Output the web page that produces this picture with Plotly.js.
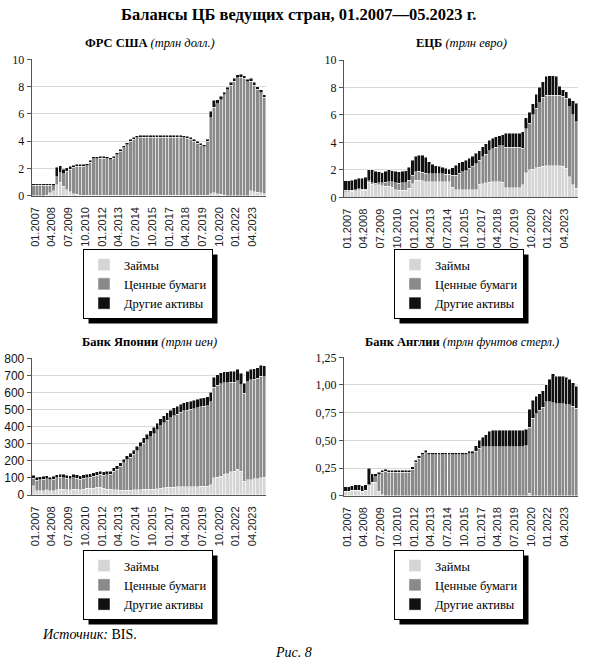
<!DOCTYPE html>
<html><head><meta charset="utf-8">
<script src="https://cdn.plot.ly/plotly-3.0.1.min.js"></script>
<style>html,body{margin:0;padding:0;background:#fff}</style>
</head><body>
<div id="chart" style="width:590px;height:662px"></div>
<script>
// Quarterly categories: 2006Q4 ... 2024Q1 (70 quarters), given by quarter start date
const quarters = [];
for (let y = 2006, m = 10; quarters.length < 70;) {
  quarters.push(y + '-' + String(m).padStart(2, '0') + '-01');
  m += 3; if (m > 12) { m -= 12; y++; }
}
const tickDates = ['2007-01-01','2008-04-01','2009-07-01','2010-10-01','2012-01-01','2013-04-01','2014-07-01','2015-10-01','2017-01-01','2018-04-01','2019-07-01','2020-10-01','2022-01-01','2023-04-01'];
const tickLabels = ['01.2007','04.2008','07.2009','10.2010','01.2012','04.2013','07.2014','10.2015','01.2017','04.2018','07.2019','10.2020','01.2022','04.2023'];
const seriesNames = ['Займы', 'Ценные бумаги', 'Другие активы'];

// ФРС США, трлн долл.
const fedLoans = [0,0,0,0,0.03,0.2,0.35,0.8,1.0,0.7, 0.45,0.3,0.15,0.1,0.05,0.02,0.02,0.02,0.02,0.02, 0.02,0.02,0.02,0.02,0.02,0.02,0.02,0.02,0.02,0.02, 0.02,0.02,0.02,0.02,0.02,0.02,0.02,0.02,0.02,0.02, 0.02,0.02,0.02,0.02,0.02,0.02,0.02,0.02,0.02,0.02, 0.02,0.02,0.02,0.15,0.2,0.15,0.1,0.05,0.01,0.01, 0.01,0.01,0.01,0.01,0.01,0.35,0.3,0.25,0.2,0.15];
const fedSecurities = [0.78,0.78,0.78,0.78,0.75,0.58,0.38,0.6,0.7,0.9, 1.35,1.65,1.95,2.05,2.12,2.13,2.18,2.43,2.68,2.69, 2.73,2.71,2.68,2.63,2.73,2.98,3.23,3.48,3.73,3.98, 4.13,4.23,4.28,4.28,4.28,4.28,4.28,4.28,4.28,4.28, 4.28,4.28,4.28,4.28,4.28,4.23,4.18,4.13,3.98,3.83, 3.68,3.58,3.98,5.55,6.3,6.6,6.95,7.35,7.74,8.09, 8.39,8.64,8.69,8.59,8.34,8.05,7.8,7.55,7.35,7.05];
const fedOther = [0.08,0.08,0.08,0.08,0.08,0.08,0.15,0.7,0.5,0.35, 0.25,0.2,0.15,0.15,0.15,0.15,0.15,0.15,0.15,0.15, 0.15,0.15,0.15,0.15,0.15,0.15,0.15,0.15,0.15,0.15, 0.15,0.15,0.15,0.15,0.15,0.15,0.15,0.15,0.15,0.15, 0.15,0.15,0.15,0.15,0.15,0.15,0.15,0.15,0.15,0.15, 0.15,0.15,0.15,0.5,0.5,0.3,0.25,0.2,0.2,0.2, 0.2,0.2,0.2,0.2,0.2,0.2,0.2,0.2,0.2,0.2];

// ЕЦБ, трлн евро
const ecbLoans = [0.42,0.42,0.45,0.48,0.55,0.5,0.5,1.1,0.95,0.9, 0.9,0.85,0.82,0.82,0.75,0.55,0.5,0.5,0.5,0.65, 1.0,1.25,1.26,1.22,1.15,1.15,1.14,1.14,1.14,1.14, 1.12,1.12,0.75,0.55,0.55,0.55,0.55,0.55,0.55,0.55, 0.95,1.0,1.05,1.1,1.15,1.15,1.15,1.1,0.7,0.7, 0.7,0.7,0.7,0.9,1.8,2.0,2.05,2.15,2.2,2.25, 2.3,2.3,2.3,2.3,2.3,2.25,2.1,1.5,0.9,0.65];
const ecbSecurities = [0.08,0.08,0.08,0.08,0.08,0.09,0.09,0.1,0.12,0.12, 0.15,0.2,0.28,0.3,0.38,0.5,0.52,0.55,0.55,0.6, 0.62,0.62,0.62,0.62,0.6,0.58,0.56,0.56,0.56,0.56, 0.55,0.55,0.85,1.05,1.2,1.3,1.4,1.55,1.7,1.9, 1.75,1.95,2.1,2.3,2.4,2.5,2.6,2.65,2.95,2.95, 2.95,2.95,2.95,2.67,3.2,3.4,3.95,4.35,4.7,5.05, 5.15,5.15,5.15,5.15,5.15,5.1,5.1,5.1,5.1,4.85];
const ecbOther = [0.7,0.7,0.72,0.74,0.77,0.81,0.86,0.8,0.93,0.88, 0.8,0.75,0.8,0.88,0.82,0.85,0.83,0.85,0.9,0.95, 1.08,1.13,1.17,1.21,1.15,0.87,0.7,0.6,0.55,0.5, 0.43,0.38,0.55,0.75,0.75,0.75,0.75,0.75,0.75,0.75, 0.7,0.75,0.75,0.75,0.75,0.75,0.75,0.8,1.0,1.0, 1.0,1.0,1.0,1.21,0.8,0.8,0.8,1.0,1.1,1.1, 1.35,1.4,1.4,1.35,0.65,0.5,0.5,0.6,1.05,1.35];

// Банк Японии, трлн иен
const bojLoans = [55,25,25,25,30,25,25,30,35,35, 30,30,35,35,30,35,40,40,40,45, 45,40,35,35,30,30,28,28,28,28, 30,30,32,35,35,35,35,38,40,42, 45,45,45,48,48,48,48,48,48,48, 50,50,50,60,100,105,110,120,125,135, 140,150,140,80,90,90,95,95,100,105];
const bojSecurities = [42,62,65,67,64,63,68,70,69,67, 67,64,66,64,63,64,62,65,70,70, 75,75,83,85,108,120,141,160,179,193, 207,228,249,269,287,305,323,344,365,381, 392,406,420,426,435,444,449,453,457,462, 465,469,473,485,530,538,542,536,531,525, 520,520,506,515,573,583,583,587,596,586];
const bojOther = [18,18,18,18,18,17,17,18,18,18, 18,18,19,19,19,19,20,20,20,20, 20,20,20,20,20,20,21,22,23,24, 25,27,29,31,33,35,37,38,40,42, 43,44,45,46,47,48,48,49,50,50, 50,51,52,55,60,62,63,64,64,65, 65,65,66,60,62,62,62,63,64,64];

// Банк Англии, трлн фунтов стерл.
const boeLoans = [0.04,0.04,0.05,0.05,0.05,0.04,0.05,0.1,0.12,0.12, 0.04,0.01,0,0,0,0,0,0,0,0, 0,0,0,0,0,0,0,0,0,0, 0,0,0,0,0,0,0,0,0,0, 0,0,0,0,0,0,0,0,0,0, 0,0,0,0,0,0.02,0,0,0,0, 0,0,0,0,0,0,0,0,0,0];
const boeSecurities = [0,0,0,0,0,0,0,0,0,0.05, 0.15,0.2,0.22,0.21,0.21,0.21,0.21,0.21,0.21,0.21, 0.24,0.3,0.34,0.37,0.39,0.37,0.37,0.37,0.37,0.37, 0.37,0.37,0.37,0.37,0.37,0.37,0.37,0.38,0.38,0.4, 0.43,0.44,0.44,0.44,0.44,0.44,0.44,0.44,0.44,0.44, 0.44,0.44,0.44,0.44,0.45,0.6,0.7,0.74,0.77,0.8, 0.85,0.85,0.84,0.83,0.83,0.83,0.82,0.82,0.81,0.79];
const boeOther = [0.04,0.04,0.04,0.05,0.05,0.05,0.05,0.15,0.08,0.03, 0.02,0.02,0.02,0.02,0.02,0.02,0.02,0.02,0.02,0.02, 0.02,0.02,0.02,0.02,0.02,0.02,0.02,0.02,0.02,0.02, 0.02,0.02,0.02,0.02,0.02,0.02,0.02,0.02,0.02,0.05, 0.07,0.09,0.11,0.14,0.15,0.15,0.15,0.15,0.15,0.15, 0.15,0.15,0.15,0.15,0.15,0.16,0.16,0.16,0.15,0.15, 0.15,0.2,0.26,0.25,0.25,0.25,0.25,0.23,0.21,0.2];

const colors = ['#d5d5d5', '#8a8a8a', '#111111'];
const W = 590, H = 662;
const SERIF = 'Liberation Serif';
const SANS = 'Liberation Sans';

function panel(seriesList, n, legendId) {
  const sfx = n === 1 ? '' : String(n);
  return seriesList.map((vals, i) => ({
    type: 'bar', x: quarters, y: vals, name: seriesNames[i],
    xperiod: 'M3', xperiodalignment: 'middle',
    xaxis: 'x' + sfx, yaxis: 'y' + sfx, legend: legendId,
    marker: { color: colors[i], line: { color: '#ffffff', width: 0.45 } },
    hoverinfo: 'skip'
  }));
}

const traces = [].concat(
  panel([fedLoans, fedSecurities, fedOther], 1, 'legend'),
  panel([ecbLoans, ecbSecurities, ecbOther], 2, 'legend2'),
  panel([bojLoans, bojSecurities, bojOther], 3, 'legend3'),
  panel([boeLoans, boeSecurities, boeOther], 4, 'legend4')
);

const xL = [31.7 / W, 266 / W], xR = [343.8 / W, 578 / W];
function xAxis(domain, anchor) {
  return {
    type: 'date', domain: domain, anchor: anchor, range: ['2006-10-01', '2024-04-01'],
    tickmode: 'array', tickvals: tickDates, ticktext: tickLabels, tickangle: -90,
    tickfont: { family: SANS, size: 11, color: '#222' },
    ticks: 'outside', ticklen: 6, tickcolor: 'rgba(0,0,0,0)',
    showline: true, linecolor: '#555', linewidth: 1, showgrid: false, zeroline: false, fixedrange: true
  };
}
function yAxis(domain, anchor, range, vals, texts, fam) {
  return {
    domain: domain, anchor: anchor, range: range, tickmode: 'array', tickvals: vals, ticktext: texts,
    tickfont: { family: fam, size: 12, color: '#111' },
    ticks: 'outside', ticklen: 4, tickcolor: '#555', showline: true, linecolor: '#555', linewidth: 1,
    showgrid: true, gridcolor: '#d9d9d9', gridwidth: 1, zeroline: false, fixedrange: true
  };
}
const fedTicks = [0, 2, 4, 6, 8, 10];
const bojTicks = [0, 100, 200, 300, 400, 500, 600, 700, 800];
const boeTicks = [0, 0.25, 0.5, 0.75, 1.0, 1.25];
const boeTickText = ['0', '0,25', '0,50', '0,75', '1,00', '1,25'];

function legendBox(px, py) {
  return {
    x: px / W, y: 1 - py / H, xanchor: 'left', yanchor: 'top',
    bgcolor: '#ffffff', bordercolor: '#000000', borderwidth: 1,
    font: { family: SERIF, size: 12.5, color: '#000' }, traceorder: 'normal', itemwidth: 30
  };
}
function note(text, px, py, size, xanchor) {
  return { text: text, x: px / W, y: 1 - py / H, xref: 'paper', yref: 'paper', showarrow: false,
    xanchor: xanchor || 'center', yanchor: 'middle', font: { family: SERIF, size: size, color: '#000' } };
}

const layout = {
  width: W, height: H, autosize: false,
  margin: { l: 0, r: 0, t: 0, b: 0 },
  paper_bgcolor: '#fff', plot_bgcolor: '#fff',
  barmode: 'stack', bargap: 0,
  xaxis: xAxis(xL, 'y'),
  yaxis: yAxis([1 - 195.7 / H, 1 - 59.3 / H], 'x', [0, 10], fedTicks, fedTicks.map(String), SERIF),
  xaxis2: xAxis(xR, 'y2'),
  yaxis2: yAxis([1 - 197.3 / H, 1 - 60 / H], 'x2', [0, 10], fedTicks, fedTicks.map(String), SERIF),
  xaxis3: xAxis(xL, 'y3'),
  yaxis3: yAxis([1 - 495 / H, 1 - 358.3 / H], 'x3', [0, 800], bojTicks, bojTicks.map(String), SANS),
  xaxis4: xAxis(xR, 'y4'),
  yaxis4: yAxis([1 - 495.7 / H, 1 - 357.3 / H], 'x4', [0, 1.25], boeTicks, boeTickText, SERIF),
  legend: legendBox(83, 249),
  legend2: legendBox(394, 249),
  legend3: legendBox(83, 550),
  legend4: legendBox(394, 550),
  annotations: [
    note('<b>Балансы ЦБ ведущих стран, 01.2007—05.2023 г.</b>', 298, 14, 16.5),
    note('<b>ФРС США</b> <i>(трлн долл.)</i>', 150, 43, 12.5),
    note('<b>ЕЦБ</b> <i>(трлн евро)</i>', 461, 43, 12.5),
    note('<b>Банк Японии</b> <i>(трлн иен)</i>', 149, 342, 12.5),
    note('<b>Банк Англии</b> <i>(трлн фунтов стерл.)</i>', 462, 342, 12.5),
    note('<i>Источник:</i> BIS.', 40, 634, 14, 'left'),
    note('<i>Рис. 8</i>', 293, 652, 14)
  ]
};

const gd = document.getElementById('chart');
Plotly.newPlot(gd, traces, layout, { staticPlot: true, displayModeBar: false }).then(function () {
  const base = gd.getBoundingClientRect();
  const shapes = [];
  ['legend', 'legend2', 'legend3', 'legend4'].forEach(function (id) {
    const bg = gd.querySelector('g.' + id + ' rect.bg');
    if (!bg) return;
    const r = bg.getBoundingClientRect();
    const off = 5;
    shapes.push({
      type: 'rect', xref: 'paper', yref: 'paper', layer: 'above',
      x0: (r.left - base.left + off) / W, x1: (r.right - base.left + off) / W,
      y0: 1 - (r.bottom - base.top + off) / H, y1: 1 - (r.top - base.top + off) / H,
      fillcolor: '#000', line: { width: 0 }
    });
  });
  return Plotly.relayout(gd, { shapes: shapes });
});
</script>
</body></html>
